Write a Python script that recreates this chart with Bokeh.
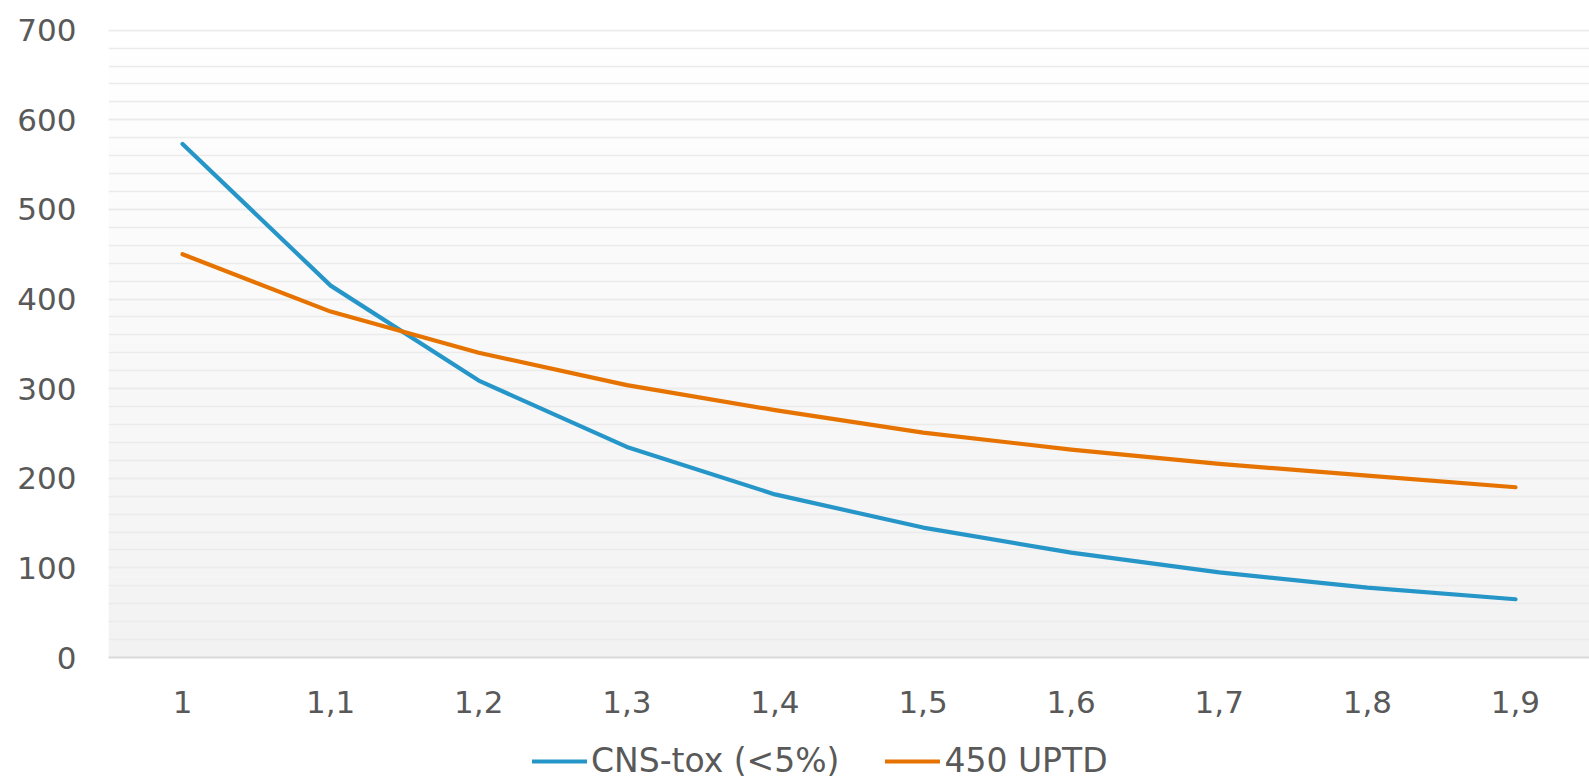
from bokeh.plotting import figure
from bokeh.layouts import column
from bokeh.models import (FactorRange, Range1d, FixedTicker, Legend, LegendItem,
                          BoxAnnotation)
from bokeh.embed import file_html
from bokeh.resources import INLINE

categories = ["1", "1,1", "1,2", "1,3", "1,4", "1,5", "1,6", "1,7", "1,8", "1,9"]
cns_tox = [573, 415, 309, 235, 182, 145, 117, 95, 78, 65]
uptd_450 = [450, 386, 340, 304, 276, 251, 232, 216, 203, 190]
series_names = ["CNS-tox (<5%)", "450 UPTD"]
y_major = [0, 100, 200, 300, 400, 500, 600, 700]

BLUE = "#2696C9"
ORANGE = "#E67300"
TEXT = "#595959"
FONT = "DejaVu Sans"
LW = 4.2

p = figure(x_range=FactorRange(factors=categories, range_padding=0),
           y_range=Range1d(0, 700.8),
           width=1589, height=725, output_backend="svg", toolbar_location=None,
           min_border_left=108, min_border_right=0, min_border_top=29,
           min_border_bottom=68)
p.outline_line_color = None
p.background_fill_color = "white"
p.border_fill_color = "white"

# vertical gradient background (white at top -> light grey at bottom)
step = 10
for b in range(0, 700, step):
    t = (b + step / 2) / 700.0
    g = int(round(242 + (255 - 242) * t))
    col = "#%02x%02x%02x" % (g, g, g)
    p.add_layout(BoxAnnotation(bottom=b, top=b + step + 0.5, fill_color=col,
                               fill_alpha=1.0, line_color=None, level="image"))

# grid
p.xgrid.visible = False
p.ygrid.ticker = FixedTicker(ticks=y_major, minor_ticks=list(range(0, 701, 20)))
p.ygrid.grid_line_color = "#EBEBEB"
p.ygrid.grid_line_width = 1.5
p.ygrid.minor_grid_line_color = "#EBEBEB"
p.ygrid.minor_grid_line_width = 1.5

# axes
p.yaxis.ticker = FixedTicker(ticks=y_major)
p.yaxis.axis_line_color = None
p.yaxis.major_tick_line_color = None
p.yaxis.minor_tick_line_color = None
p.yaxis.major_tick_out = 0
p.yaxis.minor_tick_out = 0
p.yaxis.major_label_standoff = 32
p.yaxis.major_label_text_font = FONT
p.yaxis.major_label_text_font_size = "31px"
p.yaxis.major_label_text_color = TEXT

p.xaxis.axis_line_color = "#D9D9D9"
p.xaxis.axis_line_width = 2
p.xaxis.major_tick_line_color = None
p.xaxis.minor_tick_line_color = None
p.xaxis.major_tick_out = 0
p.xaxis.major_label_standoff = 33
p.xaxis.major_label_text_font = FONT
p.xaxis.major_label_text_font_size = "31px"
p.xaxis.major_label_text_color = TEXT

p.line(categories, cns_tox, line_color=BLUE, line_width=LW, line_cap="round",
       line_join="round")
p.line(categories, uptd_450, line_color=ORANGE, line_width=LW, line_cap="round",
       line_join="round")

# legend strip below the chart (its frame is aligned with the chart frame)
nan = float("nan")
lg = figure(width=1589, height=55, output_backend="svg", toolbar_location=None,
            x_axis_location=None, y_axis_location=None,
            min_border=0, x_range=Range1d(0, 1), y_range=Range1d(0, 1))
lg.outline_line_color = None
lg.grid.visible = False
d1 = lg.line(x=[nan], y=[nan], line_color=BLUE, line_width=LW, line_cap="round")
d2 = lg.line(x=[nan], y=[nan], line_color=ORANGE, line_width=LW, line_cap="round")
legend = Legend(items=[LegendItem(label=series_names[0], renderers=[d1]),
                       LegendItem(label=series_names[1], renderers=[d2])],
                orientation="horizontal", location=(424, 0),
                label_text_font=FONT,
                label_text_font_size="33px", label_text_color=TEXT,
                glyph_width=55, glyph_height=36, label_standoff=4, spacing=46,
                padding=0, margin=0, background_fill_alpha=0, border_line_color=None)
lg.add_layout(legend, "center")

layout = column(p, lg, spacing=0)
open("out.html", "w").write(file_html(layout, INLINE))
